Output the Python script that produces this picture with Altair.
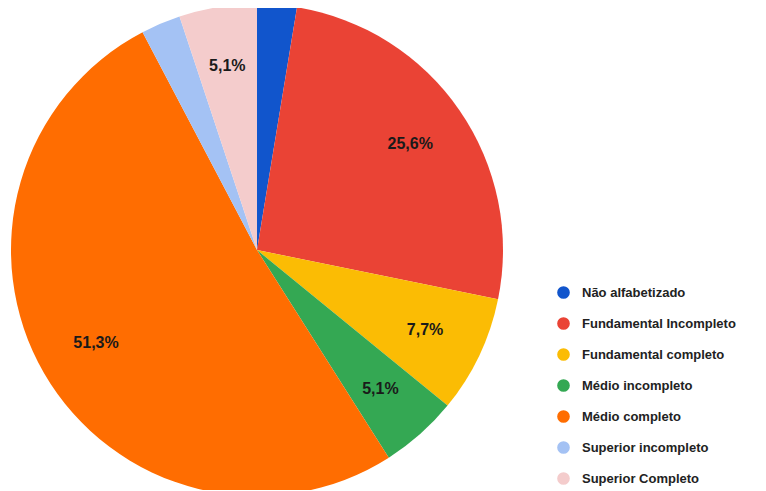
import altair as alt
import pandas as pd

categories = ["Não alfabetizado", "Fundamental Incompleto", "Fundamental completo",
              "Médio incompleto", "Médio completo", "Superior incompleto", "Superior Completo"]
values = [2.6, 25.6, 7.7, 5.1, 51.3, 2.6, 5.1]
colors = ["#1155cc", "#ea4335", "#fbbc04", "#34a853", "#ff6d01", "#a4c2f4", "#f4cccc"]

df = pd.DataFrame({
    "cat": categories,
    "val": values,
    "idx": list(range(len(categories))),
    "label": [(f"{v:.1f}".replace(".", ",") + "%") if v >= 5 else "" for v in values],
})

cx, cy, R = 249, 242, 246

base = alt.Chart(df).encode(
    theta=alt.Theta("val:Q", stack=True),
    order=alt.Order("idx:Q"),
)

pie = base.mark_arc(x=cx, y=cy, outerRadius=R).encode(
    color=alt.Color(
        "cat:N",
        scale=alt.Scale(domain=categories, range=colors),
        sort=categories,
        legend=alt.Legend(
            title=None,
            orient="none",
            legendX=549,
            legendY=278,
            symbolType="circle",
            symbolSize=160,
            symbolStrokeWidth=0,
            labelFont="Liberation Sans",
            labelFontSize=13,
            labelFontWeight="bold",
            labelColor="#222222",
            rowPadding=17,
            labelOffset=12,
        ),
    )
)

text = base.mark_text(
    x=cx, y=cy, radius=186, font="Liberation Sans", fontSize=16, fontWeight="bold",
    color="#1a1a1a",
).encode(text="label:N")

chart = (pie + text).properties(
    width=750, height=482,
    autosize=alt.AutoSizeParams(type="none"),
    padding=0,
).configure_view(stroke=None)

chart.save("out.html", embed_options={"renderer": "svg", "actions": False})
